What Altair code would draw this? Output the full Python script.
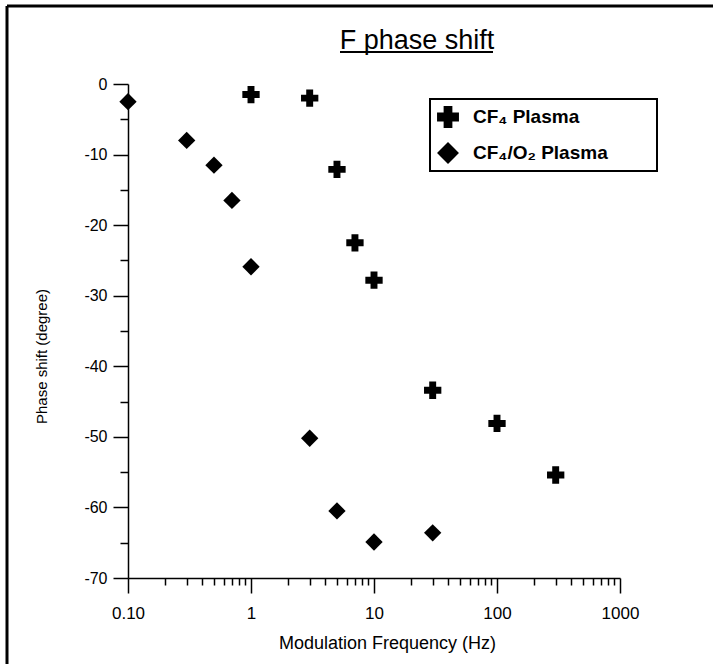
import altair as alt
import pandas as pd

# ---- data ----
series_names = ["CF₄ Plasma", "CF₄/O₂ Plasma"]
cf4_freq = [1, 3, 5, 7, 10, 30, 100, 300]
cf4_phase = [-1.5, -2.0, -12.1, -22.5, -27.8, -43.4, -48.1, -55.4]
o2_freq = [0.1, 0.3, 0.5, 0.7, 1, 3, 5, 10, 30]
o2_phase = [-2.5, -8.0, -11.5, -16.5, -25.9, -50.2, -60.5, -64.9, -63.6]

x_major = [0.1, 1, 10, 100, 1000]
x_minor = [round(m * d, 4) for d in (0.1, 1, 10, 100) for m in range(2, 10)]
y_major = [0, -10, -20, -30, -40, -50, -60, -70]
y_minor = [-5, -15, -25, -35, -45, -55, -65]

title_text = "F phase shift"
x_title = "Modulation Frequency (Hz)"
y_title = "Phase shift (degree)"

df = pd.DataFrame({
    "freq": cf4_freq + o2_freq,
    "phase": cf4_phase + o2_phase,
    "series": [series_names[0]] * len(cf4_freq) + [series_names[1]] * len(o2_freq),
})

FONT = "Liberation Sans"
W, H = 492, 494

x_scale = alt.Scale(type="log", domain=[0.1, 1000], nice=False)
y_scale = alt.Scale(domain=[-70, 0], nice=False, zero=False)

common = dict(grid=False, domainColor="black", domainWidth=1.5, tickColor="black",
              tickWidth=1.5, labelColor="black", titleColor="black", labelFont=FONT,
              titleFont=FONT, titleFontWeight="normal", labelFlush=False, labelOverlap=False)

x_axis_major = alt.Axis(orient="bottom", values=x_major, tickSize=15, labelPadding=12,
                        labelFontSize=17,
                        labelExpr="datum.value < 0.5 ? '0.10' : format(datum.value, 'd')",
                        title=x_title, titleFontSize=18, titleX=259, titleY=65,
                        titleBaseline="middle", **common)
y_axis_major = alt.Axis(orient="left", values=y_major, tickSize=15, labelPadding=6,
                        labelFontSize=16, labelExpr="'' + datum.value",
                        title=y_title, titleFontSize=15, titleX=-87, titleY=272,
                        titleAngle=270, titleBaseline="middle", **common)
x_axis_minor = alt.Axis(orient="bottom", values=x_minor, tickSize=7, labels=False,
                        domain=False, title="", grid=False, tickColor="black", tickWidth=1.5)
y_axis_minor = alt.Axis(orient="left", values=y_minor, tickSize=8, labels=False,
                        domain=False, title="", grid=False, tickColor="black", tickWidth=1.5)

legend = alt.Legend(orient="none", legendX=302, legendY=15, padding=7,
                    strokeColor="black", fillColor="white",
                    labelFont=FONT, labelFontSize=19, labelFontWeight="bold",
                    labelColor="black", labelLimit=400, symbolSize=480,
                    symbolFillColor="black", symbolStrokeColor="black",
                    symbolStrokeWidth=0, labelOffset=14, rowPadding=14,
                    labelExpr="datum.label + '\u2003\u2003\u2009\u200b'")

base = alt.Chart(df)
pts = base.mark_point(filled=True, size=300, opacity=1, color="black").encode(
    x=alt.X("freq:Q", scale=x_scale, axis=x_axis_major),
    y=alt.Y("phase:Q", scale=y_scale, axis=y_axis_major),
    shape=alt.Shape("series:N", title=None,
                    scale=alt.Scale(domain=series_names, range=["cross", "diamond"]),
                    legend=legend),
)
minor = base.mark_point(opacity=0).encode(
    x=alt.X("freq:Q", scale=x_scale, axis=x_axis_minor),
    y=alt.Y("phase:Q", scale=y_scale, axis=y_axis_minor),
)

deco = alt.Data(values=[{"k": 1}])
title_mark = alt.Chart(deco).mark_text(text=title_text, font=FONT, fontSize=27,
                                       align="center", baseline="alphabetic",
                                       color="black").encode(
    x=alt.value(289), y=alt.value(-35))
underline = alt.Chart(deco).mark_rule(color="black", strokeWidth=2).encode(
    x=alt.value(212), x2=alt.value(365), y=alt.value(-32))
frame_left = alt.Chart(deco).mark_rule(color="black", strokeWidth=3).encode(
    x=alt.value(-121), y=alt.value(-78), y2=alt.value(H + 90))
frame_top = alt.Chart(deco).mark_rule(color="black", strokeWidth=3).encode(
    x=alt.value(-121), x2=alt.value(W + 93), y=alt.value(-78))

chart = alt.layer(pts, minor, title_mark, underline, frame_left, frame_top).resolve_axis(
    x="independent", y="independent"
).properties(
    width=W, height=H,
    padding={"left": 128, "top": 84, "right": 93, "bottom": 86},
    autosize=alt.AutoSizeParams(type="none"),
    background="white",
).configure_view(strokeWidth=0).configure_legend(strokeWidth=2)

chart.save("out.html", embed_options={"renderer": "svg", "actions": False})
